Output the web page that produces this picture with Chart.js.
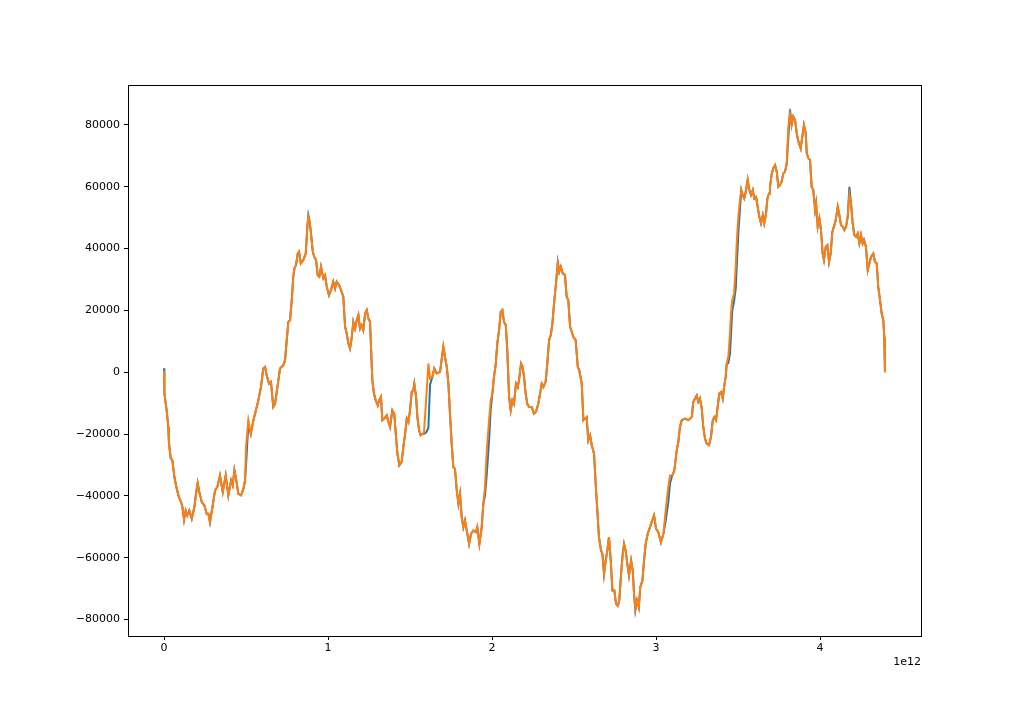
<!DOCTYPE html>
<html>
<head>
<meta charset="utf-8">
<script src="https://cdn.jsdelivr.net/npm/chart.js@4.4.1/dist/chart.umd.min.js"></script>
<style>
html,body{margin:0;padding:0;background:#fff;}
#wrap{width:1024px;height:715px;position:relative;}
</style>
</head>
<body>
<div id="wrap"><canvas id="c" width="1024" height="715"></canvas></div>
<script>
// x positions in units of 1e12
const xValues = [0,0.002,0.016,0.026,0.030,0.041,0.051,0.063,0.077,0.091,
0.104,0.112,0.122,0.132,0.142,0.154,0.169,0.185,0.195,0.205,
0.215,0.230,0.246,0.260,0.270,0.280,0.295,0.311,0.325,0.341,
0.358,0.376,0.392,0.409,0.419,0.429,0.439,0.453,0.470,0.484,
0.494,0.500,0.514,0.529,0.545,0.555,0.575,0.591,0.605,0.616,
0.626,0.640,0.652,0.666,0.677,0.687,0.697,0.707,0.727,0.738,
0.748,0.758,0.768,0.779,0.788,0.795,0.805,0.815,0.823,0.834,
0.849,0.864,0.874,0.880,0.888,0.896,0.907,0.916,0.927,0.937,
0.947,0.957,0.971,0.982,0.992,1.006,1.018,1.032,1.043,1.053,
1.067,1.079,1.093,1.104,1.114,1.124,1.134,1.145,1.154,1.165,
1.175,1.185,1.195,1.205,1.215,1.226,1.236,1.246,1.256,1.262,
1.270,1.280,1.291,1.303,1.311,1.323,1.331,1.343,1.358,1.368,
1.378,1.392,1.404,1.413,1.423,1.435,1.449,1.459,1.470,1.480,
1.490,1.500,1.510,1.520,1.526,1.537,1.545,1.555,1.565,1.577,
1.585,1.598,1.612,1.622,1.636,1.648,1.663,1.683,1.695,1.703,
1.713,1.724,1.734,1.744,1.754,1.764,1.774,1.785,1.795,1.805,
1.815,1.825,1.835,1.846,1.860,1.872,1.886,1.902,1.910,1.923,
1.937,1.947,1.957,1.968,1.982,1.992,2.002,2.012,2.023,2.032,
2.043,2.053,2.063,2.073,2.084,2.093,2.104,2.114,2.124,2.134,
2.146,2.157,2.166,2.177,2.187,2.195,2.205,2.215,2.226,2.242,
2.256,2.268,2.282,2.293,2.303,2.313,2.327,2.337,2.348,2.358,
2.368,2.380,2.390,2.401,2.410,2.419,2.431,2.445,2.455,2.465,
2.476,2.486,2.496,2.510,2.523,2.532,2.547,2.557,2.567,2.577,
2.587,2.598,2.608,2.622,2.632,2.642,2.652,2.665,2.673,2.683,
2.693,2.703,2.713,2.724,2.734,2.746,2.756,2.767,2.776,2.787,
2.797,2.805,2.815,2.825,2.835,2.848,2.858,2.866,2.874,2.884,
2.895,2.904,2.917,2.927,2.937,2.949,2.963,2.977,2.988,3.000,
3.014,3.030,3.045,3.059,3.075,3.085,3.099,3.112,3.126,3.136,
3.146,3.157,3.177,3.197,3.218,3.227,3.238,3.248,3.258,3.268,
3.279,3.288,3.299,3.309,3.323,3.335,3.346,3.355,3.366,3.376,
3.386,3.396,3.407,3.415,3.425,3.431,3.441,3.451,3.457,3.465,
3.476,3.486,3.492,3.502,3.512,3.520,3.529,3.538,3.549,3.559,
3.569,3.579,3.590,3.599,3.610,3.620,3.630,3.640,3.651,3.660,
3.671,3.679,3.689,3.695,3.706,3.715,3.726,3.736,3.746,3.756,
3.766,3.776,3.787,3.797,3.807,3.817,3.827,3.837,3.848,3.858,
3.868,3.882,3.892,3.902,3.913,3.919,3.929,3.939,3.949,3.959,
3.970,3.976,3.986,3.996,4.006,4.016,4.024,4.035,4.045,4.055,
4.065,4.075,4.085,4.096,4.108,4.118,4.128,4.138,4.148,4.159,
4.169,4.179,4.189,4.199,4.209,4.220,4.230,4.240,4.250,4.260,
4.268,4.280,4.291,4.301,4.311,4.325,4.335,4.346,4.355,4.366,
4.376,4.386,4.392,4.396];

const blueValues = [1300,-6800,-12300,-17700,-23000,-27900,-28500,-33900,-37600,-40400,
-42000,-43600,-47700,-44700,-46300,-44700,-47400,-43600,-39300,-35800,
-38700,-42000,-43100,-45800,-45800,-48500,-43600,-38200,-37100,-33400,
-38700,-33400,-39800,-35000,-36600,-31700,-34400,-39300,-39800,-37700,
-35000,-30000,-17000,-19900,-15500,-13400,-9100,-4800,1200,1700,
-1000,-3700,-3100,-11200,-10200,-6400,-2600,1200,2300,3900,
10400,16300,16800,23300,30900,33600,34700,38400,39000,35200,
36300,38400,47100,50800,48700,44900,39000,37300,36300,31400,
30900,34100,30400,31400,27600,24900,26600,29300,27100,29300,
28200,26600,24400,14700,12500,9300,7700,11400,16300,14100,
16800,18500,14100,15200,13600,19000,20100,17400,16300,8200,
-2600,-6900,-9100,-10700,-9100,-8000,-15500,-15000,-13900,-16100,
-17700,-12300,-13400,-19900,-26300,-30100,-29000,-24200,-19900,-15000,
-16100,-12300,-6400,-5800,-3700,-8000,-14500,-18800,-20400,-19900,
-19900,-19500,-18000,-4000,-1500,1200,-400,100,5000,8200,
5000,1700,-3700,-13900,-23100,-30700,-31200,-38200,-42500,-39300,
-46900,-50100,-47900,-51200,-55500,-52300,-51200,-51700,-50100,-55500,
-50100,-42500,-40000,-33000,-22000,-12000,-6900,-1500,2800,9300,
13600,19500,20100,16300,15200,7100,-8000,-12300,-9100,-10200,
-3700,-4800,-2000,2800,1700,-1500,-6900,-10200,-11200,-11200,
-13400,-12800,-10200,-6900,-3700,-4800,-3100,2800,10400,12000,
15700,23300,28700,35600,32500,34100,32000,31400,24400,23300,
14700,13100,11400,10400,1700,600,-3700,-15500,-15000,-14500,
-22000,-20400,-23600,-26300,-36000,-44700,-53300,-57700,-58700,-65200,
-60900,-57700,-53300,-60900,-70600,-70600,-74900,-75500,-73800,-65200,
-58700,-55500,-57700,-62000,-65700,-60900,-64100,-71700,-77000,-73800,
-76000,-69500,-67400,-60900,-55500,-52300,-50100,-47900,-46300,-50600,
-51700,-55000,-52300,-48000,-42000,-36000,-33400,-31700,-25300,-22600,
-17700,-15500,-15000,-15500,-14500,-9600,-8500,-7500,-9600,-8500,
-11800,-17700,-21500,-23100,-23600,-21000,-15500,-14500,-15500,-11200,
-6900,-6400,-8500,-4800,-1500,2800,3000,6000,12000,20000,
23000,27000,34000,45000,53000,58900,57300,56200,58900,62200,
58900,57300,58900,56200,56700,53500,50300,48200,50800,48200,
51400,56200,57800,60000,64300,66000,67000,64900,60000,60600,
61600,64300,64900,67500,76000,85000,80000,82700,81600,77300,
74600,72400,76200,80000,77300,70800,69200,68700,60000,58900,
52500,54600,47100,49800,46000,38400,36300,40600,41100,35700,
38400,45400,47100,49200,53500,50800,47600,47100,46000,47100,
50300,60000,54600,48200,44400,43800,44900,41700,44400,41700,
42800,40600,33000,35200,37300,38400,35700,35200,27600,23300,
19000,16800,11400,0];

const orangeValues = [500,-6800,-12300,-17700,-23000,-27900,-28500,-33900,-37600,-40400,
-42000,-43600,-47700,-44700,-46300,-44700,-47400,-43600,-39300,-35800,
-38700,-42000,-43100,-45800,-45800,-48500,-43600,-38200,-37100,-33400,
-38700,-33400,-39800,-35000,-36600,-31700,-34400,-39300,-39800,-37700,
-35000,-24200,-15500,-19900,-15500,-13400,-9100,-4800,1200,1700,
-1000,-3700,-3100,-11200,-10200,-6400,-2600,1200,2300,3900,
10400,16300,16800,23300,30900,33600,34700,38400,39000,35200,
36300,38400,47100,50300,48700,44900,39000,37300,36300,31400,
30900,34100,30400,31400,27600,24900,26600,29300,27100,29300,
28200,26600,24400,14700,12500,9300,7700,11400,16300,14100,
16800,18500,14100,15200,13600,19000,20100,17400,16300,8200,
-2600,-6900,-9100,-10700,-9100,-8000,-15500,-15000,-13900,-16100,
-17700,-12300,-13400,-19900,-26300,-30100,-29000,-24200,-19900,-15000,
-16100,-12300,-6400,-5800,-3700,-8000,-14500,-18800,-20400,-19900,
-19500,-9100,2800,-2000,-1500,1200,-400,100,5000,8200,
5000,1700,-3700,-13900,-23100,-30700,-31200,-38200,-42500,-39300,
-46900,-50100,-47900,-51200,-55500,-52300,-51200,-51700,-50100,-55500,
-50100,-42500,-37100,-25300,-15500,-9100,-6900,-1500,2800,9300,
13600,19500,20100,16300,15200,7100,-8000,-12300,-9100,-10200,
-3700,-4800,-2000,2800,1700,-1500,-6900,-10200,-11200,-11200,
-13400,-12800,-10200,-6900,-3700,-4800,-3100,2800,10400,12000,
15700,23300,28700,35200,32500,34100,32000,31400,24400,23300,
14700,13100,11400,10400,1700,600,-3700,-15500,-15000,-14500,
-22000,-20400,-23600,-26300,-36000,-44700,-53300,-57700,-58700,-65200,
-60900,-57700,-53300,-60900,-70600,-70600,-74900,-75500,-73800,-65200,
-58700,-55500,-57700,-62000,-65700,-60900,-64100,-71700,-76600,-73800,
-76000,-69500,-67400,-60900,-55500,-52300,-50100,-47900,-46300,-50600,
-51700,-55000,-52300,-44700,-37100,-33400,-33400,-31700,-25300,-22600,
-17700,-15500,-15000,-15500,-14500,-9600,-8500,-7500,-9600,-8500,
-11800,-17700,-21500,-23100,-23600,-21000,-15500,-14500,-15500,-11200,
-6900,-6400,-8500,-4800,-1500,2800,5000,12500,19000,23300,
25500,34100,41700,50300,55700,58900,57300,56200,58900,62200,
58900,57300,58900,56200,56700,53500,50300,48200,50800,48200,
51400,56200,57800,60000,64300,66000,67000,64900,60000,60600,
61600,64300,64900,67500,79400,83500,80000,82700,81600,77300,
74600,72400,76200,80000,77300,70800,69200,68700,60000,58900,
52500,54600,47100,49800,46000,38400,36300,40600,41100,35700,
38400,45400,47100,49200,53500,50800,47600,47100,46000,47100,
50300,57500,54600,48200,44400,43800,44900,41700,44400,41700,
42800,40600,33000,35200,37300,38400,35700,35200,27600,23300,
19000,16800,11400,0];

const xTickValues = [0, 1, 2, 3, 4];
const yTickValues = [-80000, -60000, -40000, -20000, 0, 20000, 40000, 60000, 80000];
const offsetText = '1e12';

const FONT = {family: '"DejaVu Sans", sans-serif', size: 11};
const toPts = ys => xValues.map((x, i) => ({x: x, y: ys[i]}));

const framePlugin = {
  id: 'frame',
  afterDraw(chart) {
    const ca = chart.chartArea, ctx = chart.ctx;
    ctx.save();
    ctx.strokeStyle = '#000';
    ctx.lineWidth = 1;
    const l = Math.round(ca.left) + 0.5, t = Math.round(ca.top) + 0.5;
    const r = Math.round(ca.right) + 0.5, b = Math.round(ca.bottom) + 0.5;
    ctx.strokeRect(l, t, r - l, b - t);
    ctx.fillStyle = '#000';
    ctx.font = '11px "DejaVu Sans", sans-serif';
    ctx.textAlign = 'right';
    ctx.textBaseline = 'top';
    ctx.fillText(offsetText, ca.right, ca.bottom + 21);
    ctx.restore();
  }
};

new Chart(document.getElementById('c'), {
  type: 'line',
  data: {
    datasets: [
      {data: toPts(blueValues), borderColor: '#1f77b4', borderWidth: 2, pointRadius: 0, fill: false, tension: 0, order: 1},
      {data: toPts(orangeValues), borderColor: '#ff7f0e', borderWidth: 2, pointRadius: 0, fill: false, tension: 0, order: 0}
    ]
  },
  options: {
    responsive: false,
    animation: false,
    events: [],
    layout: {padding: {left: 0, top: 85, right: 103, bottom: 0}},
    plugins: {legend: {display: false}, tooltip: {enabled: false}},
    scales: {
      x: {
        type: 'linear',
        min: -0.2198, max: 4.6158,
        afterBuildTicks(s) { s.ticks = xTickValues.map(v => ({value: v})); },
        afterFit(s) { s.height = 79; },
        ticks: {color: '#000', font: FONT, padding: 2, maxRotation: 0, autoSkip: false,
                callback: v => String(v)},
        grid: {drawOnChartArea: false, drawTicks: true, tickLength: 4, tickColor: '#000', tickWidth: 1},
        border: {display: false}
      },
      y: {
        type: 'linear',
        min: -85300, max: 92900,
        afterBuildTicks(s) { s.ticks = yTickValues.map(v => ({value: v})); },
        afterFit(s) { s.width = 128; },
        ticks: {color: '#000', font: FONT, padding: 4, autoSkip: false,
                callback: v => (v < 0 ? '\u2212' + Math.abs(v) : String(v))},
        grid: {drawOnChartArea: false, drawTicks: true, tickLength: 4, tickColor: '#000', tickWidth: 1},
        border: {display: false}
      }
    }
  },
  plugins: [framePlugin]
});
</script>
</body>
</html>
